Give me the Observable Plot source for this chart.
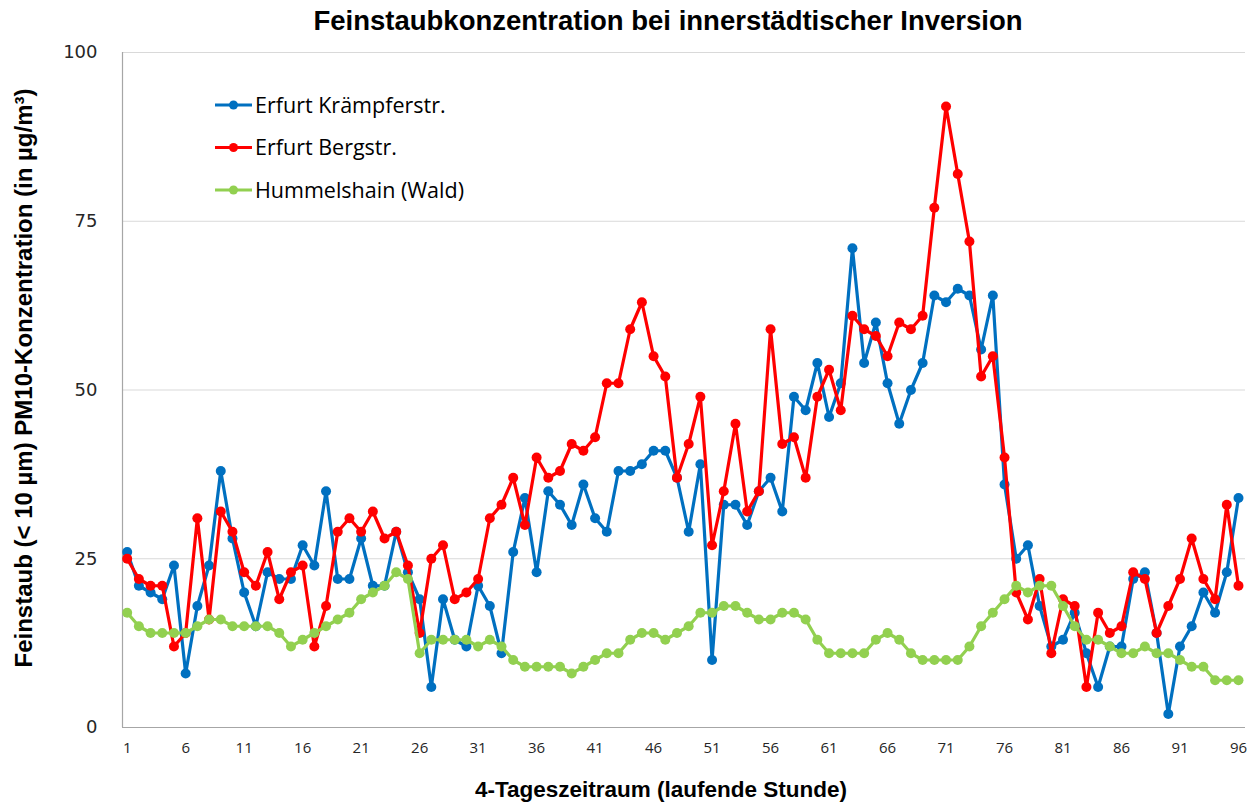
<!DOCTYPE html>
<html>
<head>
<meta charset="utf-8">
<script src="https://cdn.jsdelivr.net/npm/d3@7"></script>
<script src="https://cdn.jsdelivr.net/npm/@observablehq/plot@0.6"></script>
<style>
  html, body { margin: 0; padding: 0; background: #fff; }
  #chart { width: 1260px; height: 805px; }
</style>
</head>
<body>
<div id="chart"></div>
<script>
const titleText = "Feinstaubkonzentration bei innerstädtischer Inversion";
const xLabel = "4-Tageszeitraum (laufende Stunde)";
const yLabel = "Feinstaub (< 10 µm) PM10-Konzentration (in µg/m³)";

const hours = d3.range(1, 97);
const kraempferstr = [26,21,20,19,24,8,18,24,38,28,20,15,23,22,22,27,24,35,22,22,28,21,21,29,23,19,6,19,13,12,21,18,11,26,34,23,35,33,30,36,31,29,38,38,39,41,41,37,29,39,10,33,33,30,35,37,32,49,47,54,46,51,71,54,60,51,45,50,54,64,63,65,64,56,64,36,25,27,18,12,13,17,11,6,12,12,22,23,14,2,12,15,20,17,23,34];
const bergstr = [25,22,21,21,12,14,31,16,32,29,23,21,26,19,23,24,12,18,29,31,29,32,28,29,24,14,25,27,19,20,22,31,33,37,30,40,37,38,42,41,43,51,51,59,63,55,52,37,42,49,27,35,45,32,35,59,42,43,37,49,53,47,61,59,58,55,60,59,61,77,92,82,72,52,55,40,20,16,22,11,19,18,6,17,14,15,23,22,14,18,22,28,22,19,33,21];
const hummelshain = [17,15,14,14,14,14,15,16,16,15,15,15,15,14,12,13,14,15,16,17,19,20,21,23,22,11,13,13,13,13,12,13,12,10,9,9,9,9,8,9,10,11,11,13,14,14,13,14,15,17,17,18,18,17,16,16,17,17,16,13,11,11,11,11,13,14,13,11,10,10,10,10,12,15,17,19,21,20,21,21,18,15,13,13,12,11,11,12,11,11,10,9,9,7,7,7];

const seriesNames = ["Erfurt Krämpferstr.", "Erfurt Bergstr.", "Hummelshain (Wald)"];
const seriesValues = [kraempferstr, bergstr, hummelshain];
const seriesColors = ["#0070C0", "#FF0000", "#92D050"];
const xTicks = [1,6,11,16,21,26,31,36,41,46,51,56,61,66,71,76,81,86,91,96];
const yTicks = [0,25,50,75,100];

const rows = seriesNames.map((name, i) =>
  hours.map((h, j) => ({hour: h, value: seriesValues[i][j], series: name}))
);

const font = "'Open Sans', 'Liberation Sans', sans-serif";
const boldFont = "'Liberation Sans', Arial, sans-serif";

const seriesMarks = rows.flatMap((data) => [
  Plot.line(data, {x: "hour", y: "value", stroke: "series", strokeWidth: 3.2, strokeLinejoin: "round"}),
  Plot.dot(data, {x: "hour", y: "value", fill: "series", r: 5, stroke: "none"})
]);

const chart = Plot.plot({
  width: 1260,
  height: 805,
  marginLeft: 122,
  marginRight: 15,
  marginTop: 52,
  marginBottom: 78,
  style: {fontFamily: font, background: "#fff", color: "#000"},
  x: {domain: [0.6, 96.6], ticks: xTicks, tickSize: 0, tickPadding: 15, label: null, tickFormat: d => String(d)},
  y: {domain: [0, 100], ticks: yTicks, tickSize: 0, tickPadding: 25, label: null},
  color: {domain: seriesNames, range: seriesColors},
  marks: [
    Plot.gridY(yTicks.filter(d => d > 0), {stroke: "#d9d9d9", strokeOpacity: 1, strokeWidth: 1.2}),
    Plot.ruleY([0], {stroke: "#a6a6a6", strokeWidth: 1.2}),
    Plot.ruleX([0.6], {stroke: "#a6a6a6", strokeWidth: 1.2}),
    ...seriesMarks,
    Plot.text([titleText], {text: d => d, frameAnchor: "top", textAnchor: "middle", lineAnchor: "middle", dx: -16, dy: -31, fontSize: 27.5, fontWeight: "bold", fontFamily: boldFont, fill: "#000"}),
    Plot.text([xLabel], {text: d => d, frameAnchor: "bottom", textAnchor: "middle", lineAnchor: "middle", dx: -23, dy: 62, fontSize: 22.5, fontWeight: "bold", fontFamily: boldFont, fill: "#000"}),
    Plot.text([yLabel], {text: d => d, frameAnchor: "left", textAnchor: "middle", lineAnchor: "middle", dx: -98, dy: -12, rotate: -90, fontSize: 24, fontWeight: "bold", fontFamily: boldFont, fill: "#000"})
  ]
});

// style tick labels
const svg = d3.select(chart);
svg.selectAll("[aria-label='y-axis tick label'] text, [aria-label='y-axis'] text")
  .attr("font-size", 18).attr("font-family", "'DejaVu Sans', Verdana, sans-serif").attr("fill", "#262626");
svg.selectAll("[aria-label='x-axis tick label'] text, [aria-label='x-axis'] text")
  .attr("font-size", 15).attr("fill", "#262626");
svg.selectAll("[aria-label='y-axis tick label'], [aria-label='x-axis tick label']").attr("fill", "#262626");

// legend
const legend = svg.append("g").attr("font-family", font).attr("font-size", 21.5).attr("text-anchor", "start");
seriesNames.forEach((name, i) => {
  const y = 105 + i * 42.5;
  const g = legend.append("g").attr("transform", `translate(215,${y})`);
  g.append("line").attr("x1", 0).attr("x2", 37).attr("y1", 0).attr("y2", 0)
    .attr("stroke", seriesColors[i]).attr("stroke-width", 3.2);
  g.append("circle").attr("cx", 18.5).attr("cy", 0).attr("r", 4.5).attr("fill", seriesColors[i]);
  g.append("text").attr("x", 40).attr("y", 0).attr("dy", "0.35em").attr("text-anchor", "start").attr("fill", "#000").text(name);
});

document.getElementById("chart").appendChild(chart);
</script>
</body>
</html>
